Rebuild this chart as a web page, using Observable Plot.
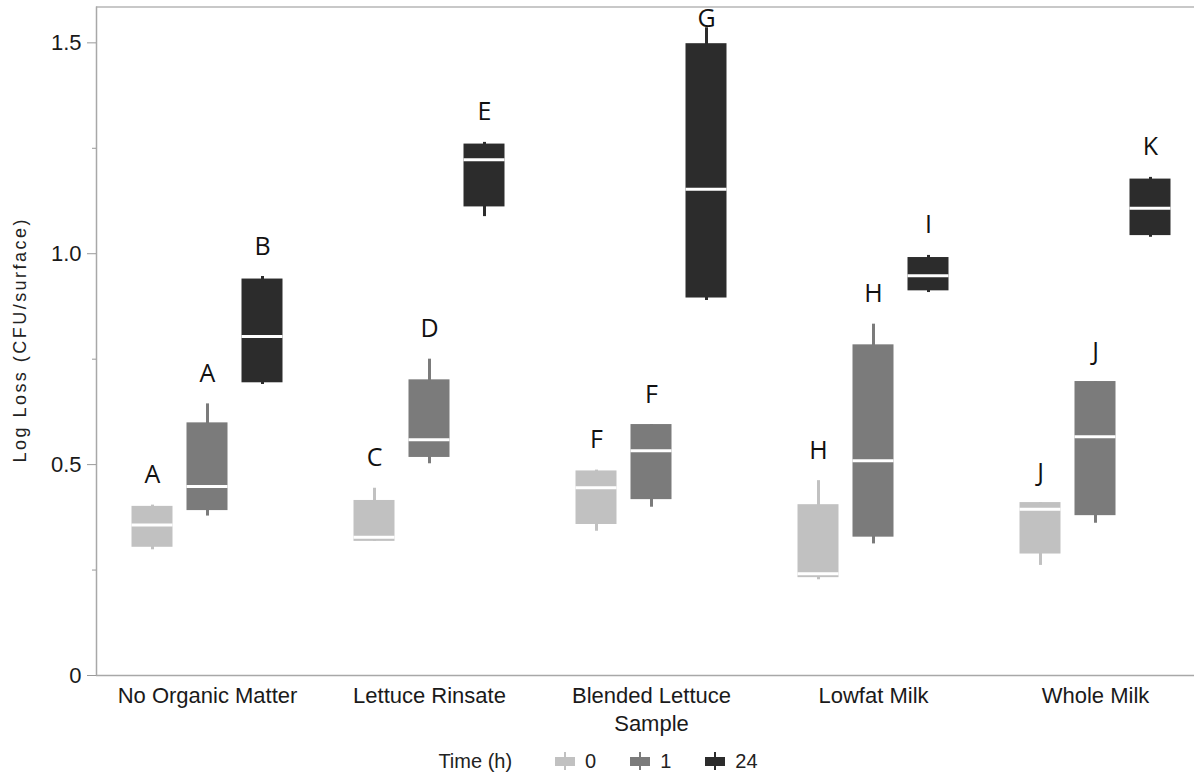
<!DOCTYPE html>
<html>
<head>
<meta charset="utf-8">
<script src="https://cdn.jsdelivr.net/npm/d3@7"></script>
<script src="https://cdn.jsdelivr.net/npm/@observablehq/plot@0.6"></script>
<style>
  html, body { margin: 0; padding: 0; background: #fff; overflow: hidden; }
  #chart { width: 1194px; overflow: hidden; }
  #chart svg { overflow: hidden; max-width: none; }
  #legend {
    position: absolute; left: 0; top: 744px; width: 1196px; height: 34px;
    display: flex; justify-content: center; align-items: center;
    font-family: "Liberation Sans", Arial, sans-serif; font-size: 20px; color: #222;
  }
  #legend .title { margin-right: 43px; }
  #legend .item { display: flex; align-items: center; margin-right: 34px; }
  #legend .item:last-child { margin-right: 0; }
  #legend svg { margin-right: 10px; }
</style>
</head>
<body>
<div id="chart"></div>
<div id="legend"></div>
<script>
// Sample types (x categories) and how they are printed under the axis
const categories = ["No Organic Matter", "Lettuce Rinsate", "Blended Lettuce Sample", "Lowfat Milk", "Whole Milk"];
const categoryLabels = ["No Organic Matter", "Lettuce Rinsate", "Blended Lettuce\nSample", "Lowfat Milk", "Whole Milk"];

// Exposure times and their box colours
const times = ["0", "1", "24"];
const timeColors = ["#c1c1c1", "#7b7b7b", "#2c2c2c"];

// Log loss (CFU/surface) box-plot statistics, one value per sample type
// Time 0 h
const t0Min    = [0.298, 0.318, 0.342, 0.227, 0.261];
const t0Q1     = [0.304, 0.318, 0.358, 0.232, 0.288];
const t0Median = [0.357, 0.328, 0.445, 0.241, 0.394];
const t0Q3     = [0.401, 0.415, 0.485, 0.405, 0.410];
const t0Max    = [0.404, 0.444, 0.487, 0.462, 0.410];
const t0Groups = ["A", "C", "F", "H", "J"];
// Time 1 h
const t1Min    = [0.378, 0.502, 0.399, 0.312, 0.361];
const t1Q1     = [0.391, 0.517, 0.417, 0.328, 0.379];
const t1Median = [0.448, 0.559, 0.533, 0.509, 0.566];
const t1Q3     = [0.599, 0.701, 0.595, 0.784, 0.697];
const t1Max    = [0.644, 0.750, 0.595, 0.833, 0.697];
const t1Groups = ["A", "D", "F", "H", "J"];
// Time 24 h
const t24Min    = [0.690, 1.088, 0.889, 0.908, 1.039];
const t24Q1     = [0.694, 1.111, 0.895, 0.912, 1.043];
const t24Median = [0.804, 1.223, 1.153, 0.948, 1.108];
const t24Q3     = [0.940, 1.260, 1.498, 0.991, 1.177];
const t24Max    = [0.946, 1.264, 1.536, 0.996, 1.181];
const t24Groups = ["B", "E", "G", "I", "K"];

// Y axis ticks
const yMajorTicks = [0, 0.5, 1.0, 1.5];
const yMinorTicks = [0.25, 0.75, 1.25];
const yTop = 1.585;
const yTitle = "Log Loss (CFU/surface)";

const series = [
  {min: t0Min, q1: t0Q1, med: t0Median, q3: t0Q3, max: t0Max, groups: t0Groups},
  {min: t1Min, q1: t1Q1, med: t1Median, q3: t1Q3, max: t1Max, groups: t1Groups},
  {min: t24Min, q1: t24Q1, med: t24Median, q3: t24Q3, max: t24Max, groups: t24Groups}
];

const width = 1196;
const xRange = [96, 1206];            // the last group runs past the right edge
const band = (xRange[1] - xRange[0]) / categories.length;
const boxWidth = 41;
const boxStep = 55;
const inset = (band - boxWidth) / 2;

// open frame: bottom axis, top border and left axis line
const marks = [
  Plot.ruleY([0], {stroke: "#a8a8a8", strokeWidth: 1.5}),
  Plot.ruleY([yTop], {stroke: "#c8c8c8", strokeWidth: 2}),
  Plot.ruleX([categories[0]], {x: d => d, dx: -band / 2, y1: 0, y2: yTop, stroke: "#a8a8a8", strokeWidth: 1.5})
];

series.forEach((s, k) => {
  const rows = categories.map((c, i) => ({
    cat: c, min: s.min[i], q1: s.q1[i], med: s.med[i], q3: s.q3[i], max: s.max[i], group: s.groups[i]
  }));
  const dx = (k - 1) * boxStep;
  const color = timeColors[k];
  marks.push(
    Plot.ruleX(rows, {x: "cat", y1: "min", y2: "max", stroke: color, strokeWidth: 3, dx}),
    Plot.barY(rows, {x: "cat", y1: "q1", y2: "q3", fill: color, dx, insetLeft: inset, insetRight: inset}),
    Plot.tickY(rows, {x: "cat", y: "med", stroke: "white", strokeWidth: 3, dx, insetLeft: inset, insetRight: inset}),
    // significance letters sit above each whisker, kept inside the frame
    Plot.text(rows, {
      x: "cat", y: d => Math.min(d.max, yTop - 0.1), text: "group", dx, dy: -30,
      fontFamily: "Open Sans", fontSize: 25, fill: "#111"
    })
  );
});

marks.push(
  Plot.axisY({ticks: yMajorTicks, tickSize: 9, tickPadding: 6, fontSize: 22, stroke: "#999",
    tickFormat: d => d === 0 ? "0" : d.toFixed(1), label: null}),
  Plot.axisY({ticks: yMinorTicks, tickSize: 4, stroke: "#999", tickFormat: () => "", label: null}),
  Plot.axisX({tickSize: 0, tickPadding: 8, fontSize: 22, lineHeight: 1.27,
    tickFormat: d => categoryLabels[categories.indexOf(d)], label: null}),
  Plot.text([yTitle], {
    frameAnchor: "left", textAnchor: "middle", rotate: -90, dx: -76, fontSize: 18, fill: "#222"
  })
);

const chart = Plot.plot({
  width,
  height: 738,
  marginLeft: xRange[0],
  marginRight: 0,
  marginTop: 6,
  marginBottom: 63,
  style: {fontFamily: "Liberation Sans, Arial, sans-serif", color: "#1a1a1a", background: "white"},
  x: {type: "band", domain: categories, range: xRange, padding: 0},
  y: {domain: [0, yTop], range: [675, 6.5]},
  marks
});
document.getElementById("chart").appendChild(chart);

// stretch the rotated axis title along its length
d3.select(chart).selectAll("text")
  .filter(function() { return this.textContent === yTitle; })
  .attr("textLength", 243).attr("lengthAdjust", "spacing");

// legend: small box-and-whisker swatches for each time
const legend = d3.select("#legend");
legend.append("span").attr("class", "title").text("Time (h)");
times.forEach((t, k) => {
  const item = legend.append("span").attr("class", "item");
  const g = item.append("svg").attr("width", 20).attr("height", 20);
  g.append("line").attr("x1", 10).attr("x2", 10).attr("y1", 1).attr("y2", 19)
    .attr("stroke", timeColors[k]).attr("stroke-width", 2);
  g.append("rect").attr("x", 0).attr("y", 6).attr("width", 20).attr("height", 9).attr("fill", timeColors[k]);
  item.append("span").text(t);
});
</script>
</body>
</html>
